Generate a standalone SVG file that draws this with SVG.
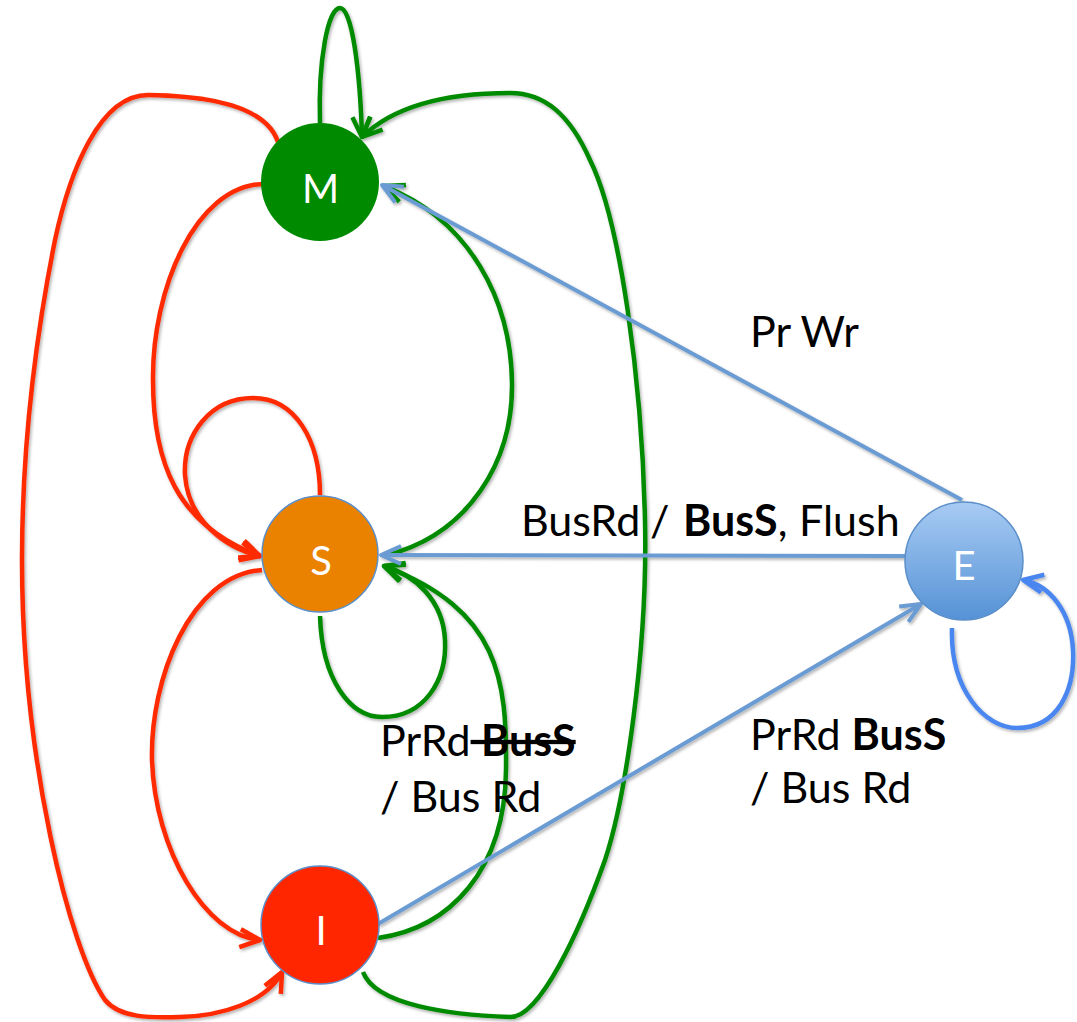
<svg xmlns="http://www.w3.org/2000/svg" width="1077" height="1022" viewBox="0 0 1077 1022">
  <style>
    .edge { fill: none; stroke-width: 4.5; stroke-linecap: butt; }
    .red { stroke: #ff2a00; }
    .green { stroke: #008a00; }
    .steel { stroke: #6a9bd2; stroke-width: 4; }
    .bright { stroke: #4a86f0; }
    .node-label { font-family: Lato, "Open Sans", sans-serif; font-size: 40px; fill: #ffffff; text-anchor: middle; }
    .label { font-family: Lato, "Open Sans", sans-serif; font-size: 43px; fill: #000000; }
    .bold { font-weight: bold; }
  </style>
  <defs>
    <marker id="arrow-red" markerUnits="userSpaceOnUse" viewBox="-4 -4 28 26" markerWidth="28" markerHeight="26" refX="20" refY="9" orient="auto">
      <path d="M0,0 L20,9 L0,18" fill="none" stroke="#ff2a00" stroke-width="4.5" stroke-linejoin="round"/>
    </marker>
    <marker id="arrow-green" markerUnits="userSpaceOnUse" viewBox="-4 -4 28 26" markerWidth="28" markerHeight="26" refX="20" refY="9" orient="auto">
      <path d="M0,0 L20,9 L0,18" fill="none" stroke="#008a00" stroke-width="4.5" stroke-linejoin="round"/>
    </marker>
    <marker id="arrow-steel" markerUnits="userSpaceOnUse" viewBox="-4 -4 28 26" markerWidth="28" markerHeight="26" refX="20" refY="9" orient="auto">
      <path d="M0,0 L20,9 L0,18" fill="none" stroke="#6a9bd2" stroke-width="4" stroke-linejoin="round"/>
    </marker>
    <marker id="arrow-bright" markerUnits="userSpaceOnUse" viewBox="-4 -4 28 26" markerWidth="28" markerHeight="26" refX="20" refY="9" orient="auto">
      <path d="M0,0 L20,9 L0,18" fill="none" stroke="#4a86f0" stroke-width="4.5" stroke-linejoin="round"/>
    </marker>
    <linearGradient id="fill-e" x1="0" y1="0" x2="0" y2="1">
      <stop offset="0" stop-color="#a8cbf3"/>
      <stop offset="1" stop-color="#5592d6"/>
    </linearGradient>
    <filter id="soft-shadow" x="-10%" y="-10%" width="120%" height="120%">
      <feDropShadow dx="1.5" dy="2" stdDeviation="1.5" flood-color="#000000" flood-opacity="0.3"/>
    </filter>
  </defs>

  <!-- transitions -->
  <g id="connectors" filter="url(#soft-shadow)">
    <!-- red -->
    <path class="edge red" d="M278,142 C268,112 225,96 148,95 C100,95 70,170 55,240 C35,340 22,450 22,560 C22,760 70,950 105,1000 C120,1018 150,1018 180,1017 C220,1016 266,1003 282,972" marker-end="url(#arrow-red)"/>
    <path class="edge red" d="M263,184 C195,186 152,290 153,380 C153,460 175,525 260,556" marker-end="url(#arrow-red)"/>
    <path class="edge red" d="M320,495 C320,440 295,398 253,398 C210,398 183,435 185,475 C188,520 225,548 260,556" marker-end="url(#arrow-red)"/>
    <path class="edge red" d="M262,570 C190,575 150,680 152,760 C155,850 205,935 260,940" marker-end="url(#arrow-red)"/>

    <!-- green -->
    <path class="edge green" d="M320,123 C318,60 328,8 340,8 C352,8 360,70 362,137" marker-end="url(#arrow-green)"/>
    <path class="edge green" d="M363,972 C375,1005 450,1015 510,1017 C540,1018 580,930 605,860 C625,800 648,650 645,520 C642,380 620,220 590,160 C570,115 545,93 510,93 C450,93 395,105 362,137" marker-end="url(#arrow-green)"/>
    <path class="edge green" d="M384,556 C470,535 513,460 512,383 C511,300 470,220 384,186" marker-end="url(#arrow-green)"/>
    <path class="edge green" d="M378,938 C450,928 505,870 506,770 C507,680 500,610 384,566" marker-end="url(#arrow-green)"/>
    <path class="edge green" d="M320,616 C322,680 350,717 382,717 C425,717 447,680 445,640 C443,600 415,575 384,566" marker-end="url(#arrow-green)"/>

    <!-- blue -->
    <path class="edge steel" d="M962,500 L382,185" marker-end="url(#arrow-steel)"/>
    <path class="edge steel" d="M906,556 L381,555" marker-end="url(#arrow-steel)"/>
    <path class="edge steel" d="M378,924 L921,604" marker-end="url(#arrow-steel)"/>
    <path class="edge bright" d="M952,628 C950,690 985,728 1017,728 C1058,728 1075,690 1073,650 C1071,612 1050,585 1023,580" marker-end="url(#arrow-bright)"/>
  </g>

  <!-- states -->
  <g id="node-M">
    <circle cx="320" cy="182" r="59" fill="#008a00"/>
    <text class="node-label" x="320.5" y="203">M</text>
  </g>
  <g id="node-S">
    <circle cx="320" cy="554" r="58" fill="#ea8200" stroke="#5b8ec8" stroke-width="1.5"/>
    <text class="node-label" x="321" y="575">S</text>
  </g>
  <g id="node-I">
    <circle cx="320" cy="925" r="59" fill="#ff2600" stroke="#5b8ec8" stroke-width="1.5"/>
    <text class="node-label" x="321" y="945">I</text>
  </g>
  <g id="node-E">
    <circle cx="964" cy="561" r="59" fill="url(#fill-e)" stroke="#5b8ec8" stroke-width="1.5"/>
    <text class="node-label" x="964" y="580">E</text>
  </g>

  <!-- transition labels -->
  <g id="labels">
    <text class="label" x="750" y="347">Pr Wr</text>
    <text class="label" y="536"><tspan x="521">BusRd</tspan> <tspan x="650">/</tspan> <tspan x="683" class="bold">BusS</tspan><tspan>,</tspan> <tspan x="799">Flush</tspan></text>
    <text class="label" x="380" y="756">PrRd<tspan class="bold" text-decoration="line-through"> BusS</tspan></text>
    <text class="label" x="380" y="812">/ Bus Rd</text>
    <text class="label" x="750" y="750">PrRd <tspan class="bold">BusS</tspan></text>
    <text class="label" x="750" y="803">/ Bus Rd</text>
  </g>
</svg>
